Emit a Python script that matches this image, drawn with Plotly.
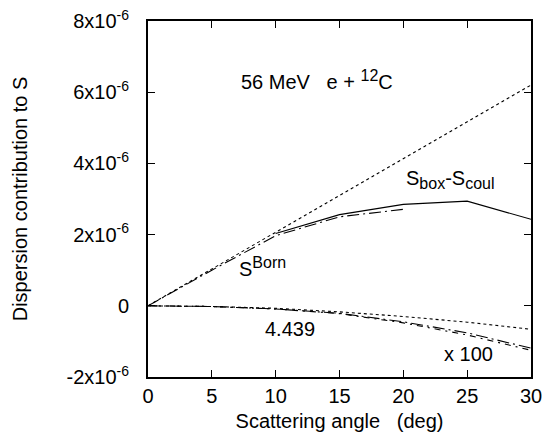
import plotly.graph_objects as go

angles = [0, 5, 10, 15, 20, 25, 30]
s_born = [0, 1.03e-6, 2.07e-6, 3.10e-6, 4.13e-6, 5.17e-6, 6.20e-6]

box_angles = [10, 15, 20, 25, 30]
s_box_coul = [2.03e-6, 2.56e-6, 2.85e-6, 2.94e-6, 2.43e-6]

dd_angles = [0, 5, 10, 15, 20]
s_disp_dd = [0, 1.00e-6, 1.97e-6, 2.50e-6, 2.71e-6]

lower_dot = [0, -0.02e-6, -0.07e-6, -0.17e-6, -0.30e-6, -0.46e-6, -0.66e-6]
lower_a = [0, -0.02e-6, -0.09e-6, -0.21e-6, -0.45e-6, -0.76e-6, -1.19e-6]
lower_b = [0, -0.02e-6, -0.09e-6, -0.22e-6, -0.48e-6, -0.82e-6, -1.25e-6]

yticks = [-2e-6, 0, 2e-6, 4e-6, 6e-6, 8e-6]
ytick_text = ["-2x10<sup>-6</sup>", "0", "2x10<sup>-6</sup>", "4x10<sup>-6</sup>",
              "6x10<sup>-6</sup>", "8x10<sup>-6</sup>"]
xticks = [0, 5, 10, 15, 20, 25, 30]

font = "Liberation Sans, Arial, sans-serif"
fs = 20
lw = 1.1


def small(t):
    return '<span style="font-size:16px">' + t + '</span>'


fig = go.Figure()
fig.add_trace(go.Scatter(x=angles, y=s_born, mode="lines",
                         line=dict(color="black", width=lw, dash="dot")))
fig.add_trace(go.Scatter(x=box_angles, y=s_box_coul, mode="lines",
                         line=dict(color="black", width=lw)))
fig.add_trace(go.Scatter(x=dd_angles, y=s_disp_dd, mode="lines",
                         line=dict(color="black", width=lw, dash="12px,4px,2px,4px")))
fig.add_trace(go.Scatter(x=angles, y=lower_dot, mode="lines",
                         line=dict(color="black", width=lw, dash="dot")))
fig.add_trace(go.Scatter(x=angles, y=lower_a, mode="lines",
                         line=dict(color="black", width=lw, dash="12px,4px,2px,4px")))
fig.add_trace(go.Scatter(x=angles, y=lower_b, mode="lines",
                         line=dict(color="black", width=lw, dash="6px,5px,2px,5px")))

annots = [
    dict(x=13.2, y=6.34e-6, text="56 MeV&nbsp;&nbsp;&nbsp;e + <sup>" + small("12") + "</sup>C"),
    dict(x=23.7, y=3.55e-6, text="S<sub>" + small("box") + "</sub>-S<sub>" + small("coul") + "</sub>"),
    dict(x=9.0, y=1.08e-6, text="S<sup>" + small("Born") + "</sup>"),
    dict(x=11.1, y=-0.66e-6, text="4.439"),
    dict(x=25.1, y=-1.36e-6, text="x 100"),
]
for a in annots:
    fig.add_annotation(x=a["x"], y=a["y"], text=a["text"], showarrow=False,
                       font=dict(family=font, size=fs, color="black"),
                       xanchor="center", yanchor="middle")

axis_common = dict(showgrid=False, zeroline=False, showline=True, linecolor="black",
                   linewidth=2, mirror="ticks", ticks="inside", ticklen=7,
                   tickcolor="black", tickwidth=1,
                   tickfont=dict(family=font, size=fs, color="black"))

fig.update_xaxes(range=[0, 30], tickvals=xticks, ticktext=[str(v) for v in xticks],
                 title=dict(text="Scattering angle&nbsp;&nbsp;&nbsp;(deg)",
                            font=dict(family=font, size=fs, color="black"),
                            standoff=8),
                 ticklabelstandoff=0,
                 **axis_common)
fig.update_yaxes(range=[-2e-6, 8e-6], tickvals=yticks, ticktext=ytick_text,
                 title=dict(text="Dispersion contribution to S",
                            font=dict(family=font, size=fs, color="black"),
                            standoff=34),
                 ticklabelstandoff=13,
                 **axis_common)

fig.update_layout(width=550, height=445, showlegend=False,
                  plot_bgcolor="white", paper_bgcolor="white",
                  margin=dict(l=148, r=19, t=21, b=68, autoexpand=False))

fig.write_html("out.html")
